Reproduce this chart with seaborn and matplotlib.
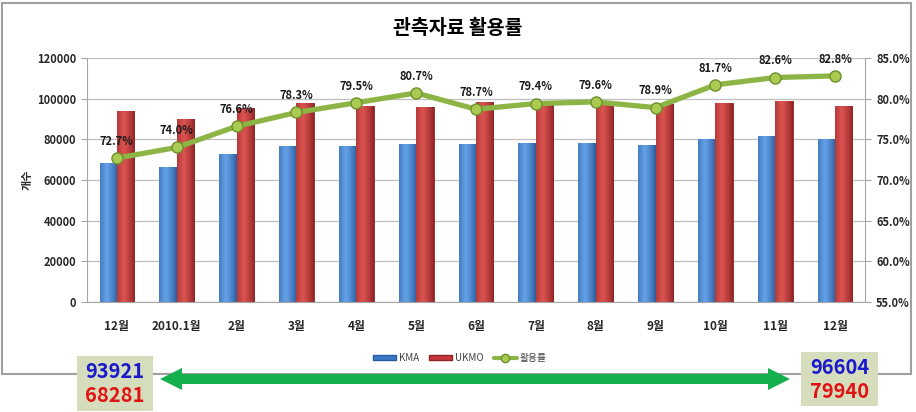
"""Observation data utilisation chart: KMA vs UKMO counts with utilisation rate."""

import matplotlib.pyplot as plt
import numpy as np
import pandas as pd
import seaborn as sns
from matplotlib.colors import LinearSegmentedColormap
from matplotlib.lines import Line2D
from matplotlib.patches import Patch, Polygon, Rectangle

PERIODS = ["2009-12", "2010-01", "2010-02", "2010-03", "2010-04", "2010-05", "2010-06",
           "2010-07", "2010-08", "2010-09", "2010-10", "2010-11", "2010-12"]
TICK_LABELS = ["12월", "2010.1월", "2월", "3월", "4월", "5월", "6월",
               "7월", "8월", "9월", "10월", "11월", "12월"]
KMA = [68281, 66500, 73000, 76500, 76500, 77500, 77500, 78200, 78200, 77000, 80000, 81500, 79940]
UKMO = [93921, 90000, 95300, 97700, 96300, 96000, 98400, 98400, 98200, 97600, 97900, 98700, 96604]
RATE = [72.7, 74.0, 76.6, 78.3, 79.5, 80.7, 78.7, 79.4, 79.6, 78.9, 81.7, 82.6, 82.8]

LEFT_TICKS = [0, 20000, 40000, 60000, 80000, 100000, 120000]
RIGHT_TICKS = [55, 60, 65, 70, 75, 80, 85]

W, H = 916, 412


def fx(px):
    return px / W


def fy(py):
    return 1 - py / H


def shade_bars(ax, patches, dark, light):
    cmap = LinearSegmentedColormap.from_list("shade", [dark, light])
    t = np.linspace(0, 1, 64)
    grad = np.clip(1 - np.abs(t - 0.38) / 0.62, 0, 1) ** 0.8
    for p in patches:
        x0, y0, w, h = p.get_x(), p.get_y(), p.get_width(), p.get_height()
        im = ax.imshow(grad[np.newaxis, :], extent=[x0, x0 + w, y0, y0 + h],
                       aspect="auto", cmap=cmap, vmin=0, vmax=1, zorder=p.get_zorder())
        im.set_clip_path(p)
        p.set_edgecolor(dark)
        p.set_linewidth(0.6)


def main():
    sns.set_style("white")
    plt.rcParams["font.family"] = ["Noto Sans CJK KR", "DejaVu Sans"]

    df = pd.DataFrame({
        "period": PERIODS * 2,
        "count": KMA + UKMO,
        "model": ["KMA"] * len(KMA) + ["UKMO"] * len(UKMO),
    })

    fig = plt.figure(figsize=(W / 100, H / 100), dpi=100)
    ax = fig.add_axes([fx(87), fy(302), fx(865) - fx(87), fy(58) - fy(302)])

    sns.barplot(data=df, x="period", y="count", hue="model", order=PERIODS,
                palette={"KMA": "#3B78C8", "UKMO": "#C8383A"}, width=0.58, gap=0,
                saturation=1, legend=False, ax=ax)

    n = len(PERIODS)
    bars = list(ax.patches)
    shade_bars(ax, bars[:n], "#2A5A9C", "#64A2E8")
    shade_bars(ax, bars[n:], "#8E2224", "#DC5451")

    ax.set_xlim(-0.5, n - 0.5)
    ax.set_ylim(0, 120000)
    ax.set_yticks(LEFT_TICKS)
    ax.set_yticklabels([str(v) for v in LEFT_TICKS], fontsize=8, fontweight="bold")
    ax.set_xticks(range(n))
    ax.set_xticklabels(TICK_LABELS, fontsize=8.5, fontweight="bold")
    ax.tick_params(axis="x", length=0, pad=13)
    ax.tick_params(axis="y", length=4, color="#A6A6A6", pad=4)
    ax.set_xlabel("")
    ax.set_ylabel("개수", fontsize=8, fontweight="bold", labelpad=2)
    ax.yaxis.grid(True, color="#BFBFBF", linewidth=0.9)
    ax.set_axisbelow(True)
    for side in ["top", "right"]:
        ax.spines[side].set_visible(False)
    for side in ["left", "bottom"]:
        ax.spines[side].set_color("#A6A6A6")

    ax2 = ax.twinx()
    pos = np.arange(n)
    sns.lineplot(x=pos, y=RATE, ax=ax2, color="#8DB545", linewidth=3.8, marker="o",
                 markersize=8, markerfacecolor="#A9CB52", markeredgecolor="#6E8F2C",
                 markeredgewidth=1, errorbar=None)
    for x, r in zip(pos, RATE):
        ax2.annotate(f"{r:.1f}%", (x, r), xytext=(0, 12), textcoords="offset points",
                     ha="center", va="center", fontsize=8, fontweight="bold", color="#1A1A1A")
    ax2.set_ylim(55, 85)
    ax2.set_yticks(RIGHT_TICKS)
    ax2.set_yticklabels([f"{v:.1f}%" for v in RIGHT_TICKS], fontsize=8, fontweight="bold")
    ax2.tick_params(axis="y", length=4, color="#A6A6A6", pad=4)
    for side in ["top", "left", "bottom"]:
        ax2.spines[side].set_visible(False)
    ax2.spines["right"].set_color("#A6A6A6")
    ax2.set_xlim(-0.5, n - 0.5)

    fig.text(fx(458), fy(28), "관측자료 활용률", ha="center", va="center",
             fontsize=14, fontweight="bold", color="black")

    handles = [
        Patch(facecolor="#3B78C8", edgecolor="#2A5A9C"),
        Patch(facecolor="#C8383A", edgecolor="#8E2224"),
        Line2D([0], [0], color="#8DB545", linewidth=3, marker="o", markersize=6,
               markerfacecolor="#A9CB52", markeredgecolor="#6E8F2C"),
    ]
    leg = fig.legend(handles, ["KMA", "UKMO", "활용률"], loc="center",
                     bbox_to_anchor=(fx(460), fy(358)), ncol=3, frameon=False,
                     fontsize=7, handlelength=2.4, handleheight=0.5, handletextpad=0.3,
                     columnspacing=1.0)
    for t in leg.get_texts():
        t.set_color("#404040")

    # chart frame
    fig.add_artist(Rectangle((fx(2), fy(374)), fx(911) - fx(2), fy(3) - fy(374),
                             transform=fig.transFigure, fill=False,
                             edgecolor="#A0A0A0", linewidth=1.5))

    # double-headed arrow
    cy, sh, hh, hl = 379, 5, 11, 22
    lt, rt = 160, 790
    pts = [(lt, cy), (lt + hl, cy - hh), (lt + hl, cy - sh), (rt - hl, cy - sh),
           (rt - hl, cy - hh), (rt, cy), (rt - hl, cy + hh), (rt - hl, cy + sh),
           (lt + hl, cy + sh), (lt + hl, cy + hh)]
    fig.add_artist(Polygon([(fx(x), fy(y)) for x, y in pts], closed=True,
                           transform=fig.transFigure, facecolor="#14B04E", edgecolor="none"))

    # value boxes
    boxes = [((77, 356, 153, 411), (UKMO[0], KMA[0])),
             ((801, 352, 878, 406), (UKMO[-1], KMA[-1]))]
    for (x0, y0, x1, y1), (top_val, bot_val) in boxes:
        fig.add_artist(Rectangle((fx(x0), fy(y1)), fx(x1) - fx(x0), fy(y0) - fy(y1),
                                 transform=fig.transFigure, facecolor="#D6DDBC",
                                 edgecolor="none"))
        cx = (x0 + x1) / 2
        fig.text(fx(cx), fy(y0 + 15), str(top_val), ha="center", va="center",
                 fontsize=14.5, fontweight="bold", color="#1A1ACC")
        fig.text(fx(cx), fy(y0 + 40), str(bot_val), ha="center", va="center",
                 fontsize=14.5, fontweight="bold", color="#E01414")

    fig.savefig("out.png", dpi=100)
    plt.close(fig)


if __name__ == "__main__":
    main()
